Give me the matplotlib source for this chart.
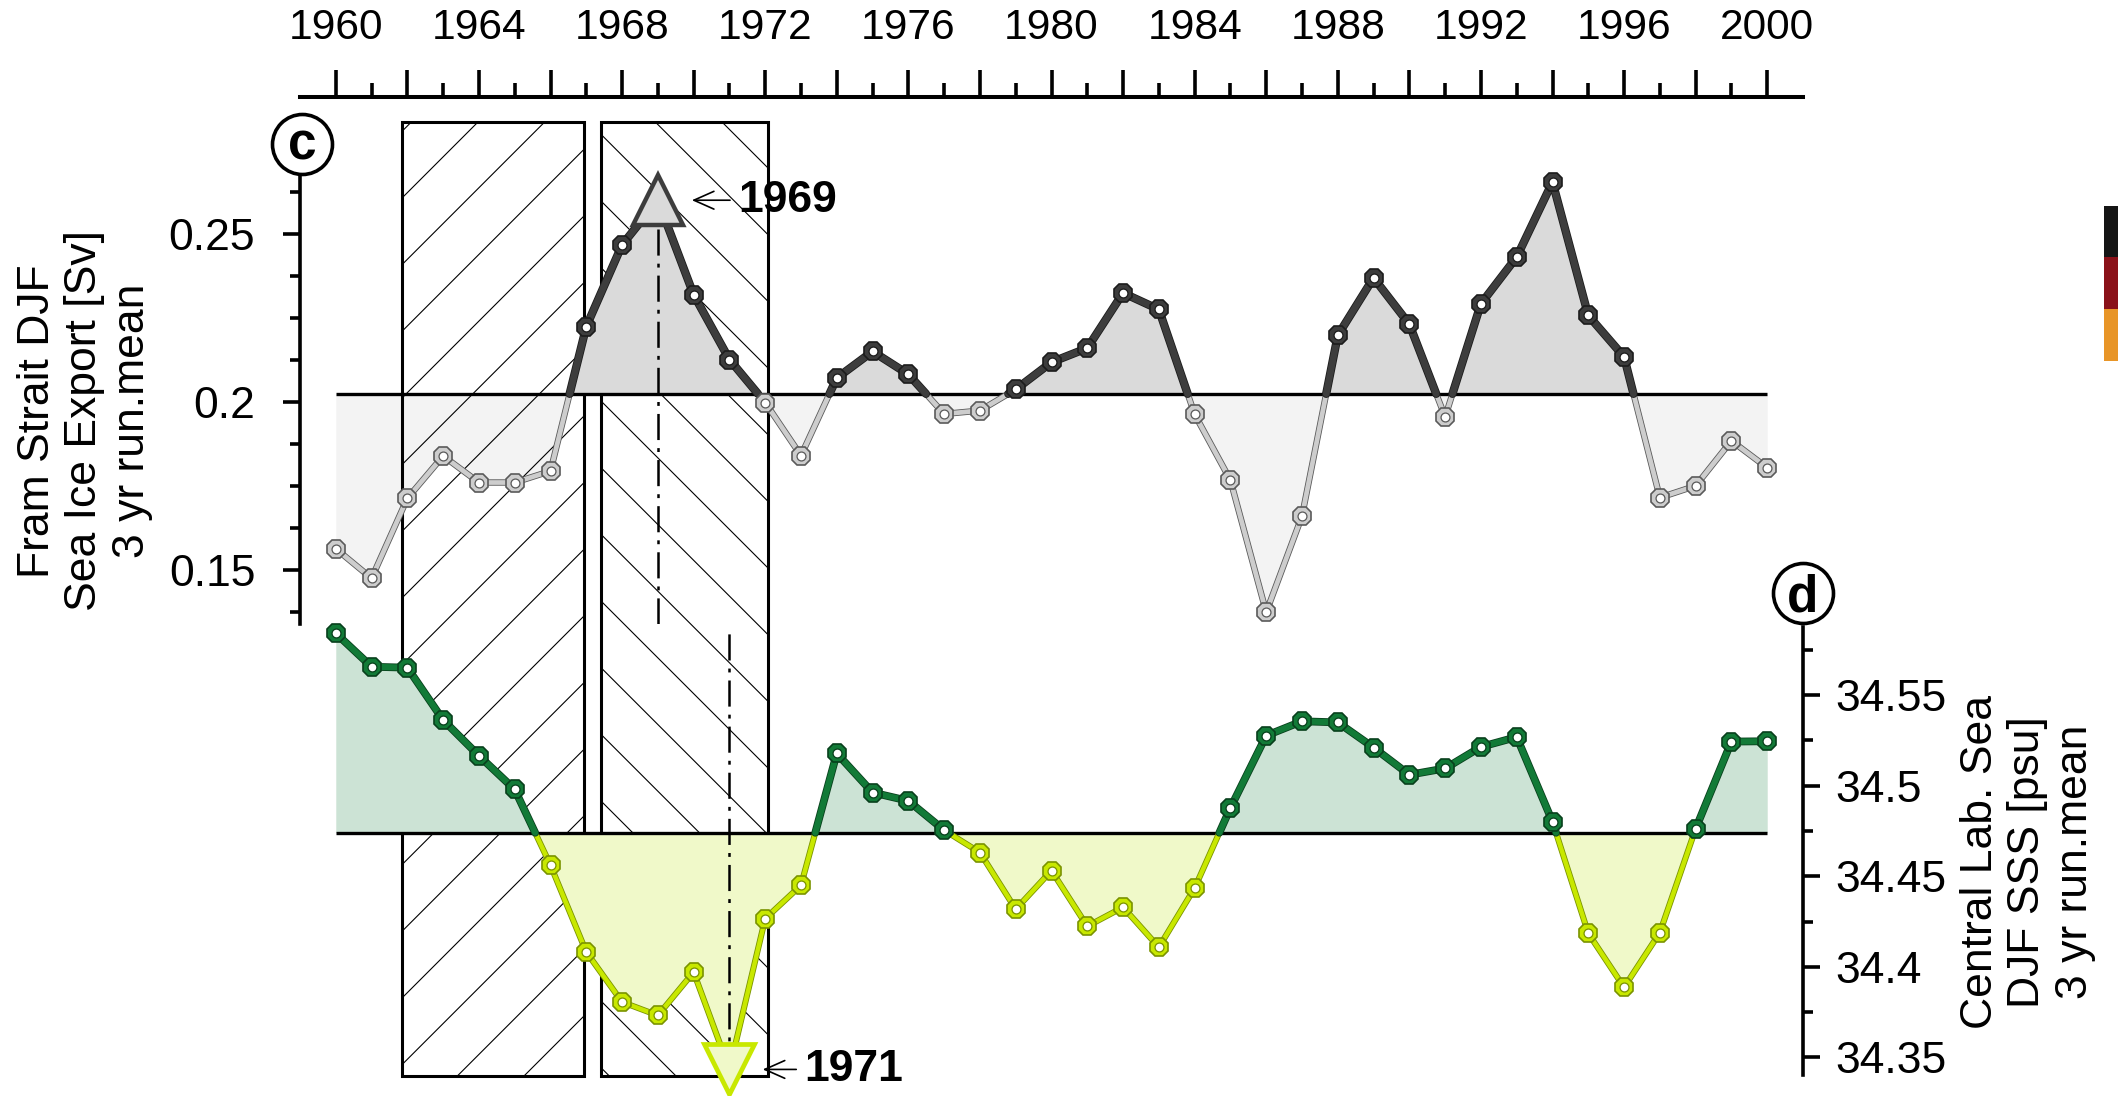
import numpy as np
import matplotlib
matplotlib.use('Agg')
import matplotlib.pyplot as plt
import matplotlib.patheffects as pe
from matplotlib.patches import Rectangle
from matplotlib.lines import Line2D
from matplotlib.ticker import FixedLocator, FuncFormatter
from matplotlib.transforms import blended_transform_factory

plt.rcParams['font.family'] = ['Liberation Sans', 'DejaVu Sans']
plt.rcParams['hatch.linewidth'] = 0.4
plt.rcParams['lines.scale_dashes'] = False

# 3 yr running means, DJF
years = list(range(1960, 2001))
fram_export = [0.1563, 0.1475, 0.1713, 0.1839, 0.1760, 0.1760, 0.1794, 0.2224, 0.2467, 0.2600,
               0.2319, 0.2126, 0.1998, 0.1840, 0.2071, 0.2150, 0.2082, 0.1964, 0.1974, 0.2037,
               0.2118, 0.2160, 0.2324, 0.2275, 0.1963, 0.1767, 0.1374, 0.1660, 0.2198, 0.2369,
               0.2231, 0.1955, 0.2292, 0.2431, 0.2654, 0.2257, 0.2134, 0.1715, 0.1750, 0.1884, 0.1804]
lab_sea_sss = [34.5841, 34.5656, 34.5651, 34.5362, 34.5165, 34.4979, 34.4561, 34.4082, 34.3806, 34.3732,
               34.3971, 34.3434, 34.4266, 34.4450, 34.5178, 34.4962, 34.4916, 34.4754, 34.4631, 34.4318,
               34.4531, 34.4224, 34.4329, 34.4108, 34.4435, 34.4877, 34.5276, 34.5355, 34.5349, 34.5210,
               34.5060, 34.5095, 34.5214, 34.5268, 34.4801, 34.4185, 34.3887, 34.4189, 34.4762, 34.5243, 34.5245]
fram_mean = 0.2024
sss_mean = 34.474
fram_peak_year = 1969
sss_low_year = 1971

# shaded periods: (start, end, hatch)
periods = [(1961.85, 1966.95, '/'), (1967.4, 1972.07, '\\')]

fram_ticks = [0.15, 0.2, 0.25]
fram_ticklabels = ['0.15', '0.2', '0.25']
fram_minor = [0.1375, 0.1625, 0.175, 0.1875, 0.2125, 0.225, 0.2375, 0.2625]
sss_ticks = [34.35, 34.4, 34.45, 34.5, 34.55]
sss_ticklabels = ['34.35', '34.4', '34.45', '34.5', '34.55']
sss_minor = [34.375, 34.425, 34.475, 34.525, 34.575]

W, H = 2118, 1096
fig = plt.figure(figsize=(W / 200, H / 200), dpi=200)


def fx(px):
    return px / W


def fy(py):
    return 1 - py / H


ax1 = fig.add_axes([fx(300), fy(624), fx(1803) - fx(300), fy(174) - fy(624)])
ax2 = fig.add_axes([fx(300), fy(1074.5), fx(1803) - fx(300), fy(626.7) - fy(1074.5)])
for ax in (ax1, ax2):
    ax.set_facecolor('none')
    ax.set_xlim(1959, 2001)
ax1.set_ylim(0.1339, 0.2678)
ax2.set_ylim(34.3406, 34.5877)


def split_at_ref(x, y, ref):
    xs, ys = [x[0]], [y[0]]
    for i in range(1, len(x)):
        y0, y1 = y[i - 1], y[i]
        if (y0 - ref) * (y1 - ref) < 0:
            t = (ref - y0) / (y1 - y0)
            xs.append(x[i - 1] + t * (x[i] - x[i - 1]))
            ys.append(ref)
        xs.append(x[i])
        ys.append(y[i])
    return np.array(xs, float), np.array(ys, float)


def draw_series(ax, x, y, ref, st, skip_year):
    x = np.array(x, float)
    y = np.array(y, float)
    xx, yy = split_at_ref(x, y, ref)
    ax.fill_between(xx, np.minimum(yy, ref), ref, color=st['fill_lo'], lw=0, zorder=st['z_lo'])
    ax.fill_between(xx, np.maximum(yy, ref), ref, color=st['fill_hi'], lw=0, zorder=2)
    ax.plot([x[0], x[-1]], [ref, ref], color='black', lw=1.2, zorder=3, solid_capstyle='butt')
    lo = np.where(yy <= ref + 1e-9, yy, np.nan)
    hi = np.where(yy >= ref - 1e-9, yy, np.nan)
    ax.plot(xx, lo, color=st['lo'], lw=st['lw_lo'], zorder=4, clip_on=False,
            solid_capstyle='round', solid_joinstyle='round',
            path_effects=[pe.Stroke(linewidth=st['lw_lo'] + 0.6, foreground=st['lo_edge']), pe.Normal()])
    ax.plot(xx, hi, color=st['hi'], lw=st['lw_hi'], zorder=4.1, clip_on=False,
            solid_capstyle='round', solid_joinstyle='round',
            path_effects=[pe.Stroke(linewidth=st['lw_hi'] + 0.6, foreground=st['hi_edge']), pe.Normal()])
    keep = x != skip_year
    for sel, face, edge in [((y < ref) & keep, st['lo'], st['lo_edge']),
                            ((y >= ref) & keep, st['hi'], st['hi_edge'])]:
        ax.plot(x[sel], y[sel], ls='none', marker='8', ms=7.4, mfc=face, mec=edge, mew=0.6,
                zorder=5, clip_on=False)
        ax.plot(x[sel], y[sel], ls='none', marker='o', ms=3.2, mfc='white', mec=edge, mew=0.45,
                zorder=5.1, clip_on=False)


fram_style = dict(fill_hi='#dadada', fill_lo='#f3f3f3', z_lo=0.5,
                  hi='#3d3d3d', hi_edge='#1c1c1c', lw_hi=2.4,
                  lo='#cdcdcd', lo_edge='#5a5a5a', lw_lo=1.7)
sss_style = dict(fill_hi='#cce3d5', fill_lo='#f0f9c9', z_lo=2,
                 hi='#127a37', hi_edge='#08401c', lw_hi=2.2,
                 lo='#c8e800', lo_edge='#7a9300', lw_lo=1.6)

# hatched periods running through both panels
trans = blended_transform_factory(ax1.transData, fig.transFigure)
for x0, x1, hatch in periods:
    ax1.add_patch(Rectangle((x0, fy(1076)), x1 - x0, fy(121.7) - fy(1076), transform=trans,
                            facecolor='none', edgecolor='black', lw=1.1, hatch=hatch,
                            zorder=1, clip_on=False))

draw_series(ax1, years, fram_export, fram_mean, fram_style, fram_peak_year)
draw_series(ax2, years, lab_sea_sss, sss_mean, sss_style, sss_low_year)

dashdot = (0, (9.4, 2.9, 1.4, 2.9))
ax1.axvline(fram_peak_year, color='black', lw=0.9, ls=dashdot, zorder=3)
ax2.axvline(sss_low_year, color='black', lw=0.9, ls=dashdot, zorder=3)

v69 = fram_export[years.index(fram_peak_year)]
v71 = lab_sea_sss[years.index(sss_low_year)]
ax1.plot([fram_peak_year], [v69], marker='^', ms=18, mfc='#dadada', mec='#3d3d3d', mew=1.6,
         zorder=6, clip_on=False)
ax2.plot([sss_low_year], [v71], marker='v', ms=18, mfc='#f0f9c9', mec='#c8e800', mew=1.7,
         zorder=6, clip_on=False)

arrow = dict(arrowstyle='->,head_length=0.45,head_width=0.2', lw=0.6, color='black',
             shrinkA=1, shrinkB=0)
ax1.annotate(str(fram_peak_year), xy=(fram_peak_year + 0.95, v69), xytext=(1971.25, v69),
             fontsize=16, fontweight='bold', ha='left', va='center', arrowprops=arrow,
             zorder=7, annotation_clip=False)
ax2.annotate(str(sss_low_year), xy=(sss_low_year + 0.93, v71), xytext=(1973.1, v71),
             fontsize=16, fontweight='bold', ha='left', va='center', arrowprops=arrow,
             zorder=7, annotation_clip=False)

# axes styling
for s in ['bottom', 'right']:
    ax1.spines[s].set_visible(False)
for s in ['bottom', 'left', 'top']:
    ax2.spines[s].set_visible(False)
ax1.spines['left'].set_linewidth(1.3)
ax1.spines['top'].set_linewidth(1.45)
ax1.spines['top'].set_position(('outward', 27.8))
ax2.spines['right'].set_linewidth(1.3)

ax1.xaxis.set_ticks_position('top')
ax1.xaxis.set_major_locator(FixedLocator(range(1960, 2001, 2)))
ax1.xaxis.set_minor_locator(FixedLocator(range(1961, 2000, 2)))
ax1.xaxis.set_major_formatter(FuncFormatter(lambda v, p: str(int(v)) if int(v) % 4 == 0 else ''))
ax1.tick_params(axis='x', which='major', direction='out', length=9.7, width=1.3, pad=7.9,
                labelsize=15.3, top=True, labeltop=True, bottom=False, labelbottom=False)
ax1.tick_params(axis='x', which='minor', direction='out', length=5.0, width=1.3, top=True, bottom=False)

ax1.set_yticks(fram_ticks, fram_ticklabels)
ax1.yaxis.set_minor_locator(FixedLocator(fram_minor))
ax1.tick_params(axis='y', which='major', direction='out', length=6.1, width=1.3, pad=10, labelsize=16)
ax1.tick_params(axis='y', which='minor', direction='out', length=3.6, width=1.3)

ax2.set_xticks([])
ax2.yaxis.set_ticks_position('right')
ax2.set_yticks(sss_ticks, sss_ticklabels)
ax2.yaxis.set_minor_locator(FixedLocator(sss_minor))
ax2.tick_params(axis='y', which='major', direction='out', length=6.1, width=1.3, pad=5.4,
                labelsize=16, right=True, left=False, labelright=True, labelleft=False)
ax2.tick_params(axis='y', which='minor', direction='out', length=3.6, width=1.3, right=True, left=False)

fig.text(fx(85), fy(421), 'Fram Strait DJF\nSea Ice Export [Sv]\n3 yr run.mean', rotation=90,
         ha='center', va='center', multialignment='center', fontsize=16, linespacing=1.2)
fig.text(fx(2028), fy(862), 'Central Lab. Sea\nDJF SSS [psu]\n3 yr run.mean', rotation=90,
         ha='center', va='center', multialignment='center', fontsize=16, linespacing=1.2)

# panel letters
for cx, cy, base, letter in [(302, 143.6, 159.6, 'c'), (1803, 592.5, 611.3, 'd')]:
    fig.add_artist(Line2D([fx(cx)], [fy(cy)], transform=fig.transFigure, marker='o', ms=21.6,
                          mfc='white', mec='black', mew=1.3, ls='none', zorder=8))
    fig.text(fx(cx), fy(base), letter, ha='center', va='baseline', fontsize=18.5,
             fontweight='bold', zorder=9)

# colour key strip at the right edge
for y0, y1, col in [(205.7, 257.3, '#151515'), (257.3, 309, '#8a1119'), (309, 360.7, '#e89527')]:
    fig.add_artist(Rectangle((fx(2104), fy(y1)), 1 - fx(2104), fy(y0) - fy(y1),
                             transform=fig.transFigure, facecolor=col, edgecolor='none'))

fig.savefig('out.png', dpi=200, facecolor='white')
